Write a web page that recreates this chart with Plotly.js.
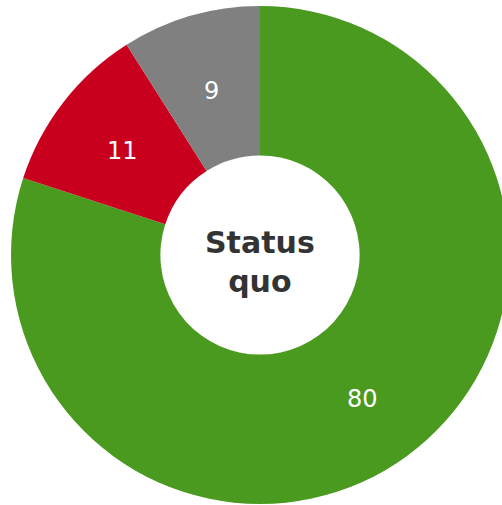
<!DOCTYPE html>
<html><head><meta charset="utf-8">
<script src="https://cdn.plot.ly/plotly-3.0.1.min.js"></script>
<style>html,body{margin:0;padding:0;overflow:hidden;background:#fff;width:502px;height:505px}</style>
</head><body><div id="chart" style="width:520px;height:505px"></div>
<script>
const labels = ["Positive", "Negative", "Neutral"];
const values = [80, 11, 9];
const colors = ["#4A9A20", "#C8001E", "#808080"];
const centerText = "Status<br>quo";

const W = 520, H = 505;
const cx = 260, cy = 250, R = 249, hole = 0.4;

// value labels placed at mid-angle, mid-ring of each slice
const total = values.reduce((a, b) => a + b, 0);
const rMid = R * (1 + hole) / 2;
let cum = 0;
const labelAnns = values.map(v => {
  const mid = (cum + v / 2) / total * 2 * Math.PI;
  cum += v;
  return {
    text: String(v),
    x: (cx + rMid * Math.sin(mid)) / W,
    y: (cy + rMid * Math.cos(mid)) / H,
    yshift: -3,
    xref: "paper", yref: "paper", showarrow: false,
    xanchor: "center", yanchor: "middle",
    font: {family: "DejaVu Sans", size: 24, color: "#ffffff"}
  };
});

Plotly.newPlot("chart", [{
  type: "pie",
  labels: labels,
  values: values,
  hole: hole,
  sort: false,
  direction: "clockwise",
  rotation: 0,
  marker: {colors: colors, line: {width: 0}},
  textinfo: "none",
  domain: {x: [(cx - R) / W, (cx + R) / W], y: [(cy - R) / H, (cy + R) / H]},
  showlegend: false,
  hoverinfo: "none"
}], {
  width: W, height: H,
  margin: {l: 0, r: 0, t: 0, b: 0},
  paper_bgcolor: "#ffffff",
  showlegend: false,
  annotations: labelAnns.concat([{
    text: "<b>" + centerText + "</b>",
    x: cx / W, y: (cy - 7) / H, xref: "paper", yref: "paper",
    xanchor: "center", yanchor: "middle",
    showarrow: false,
    font: {family: "DejaVu Sans", size: 30, color: "#333333"}
  }])
}, {staticPlot: true, displayModeBar: false});
</script></body></html>
